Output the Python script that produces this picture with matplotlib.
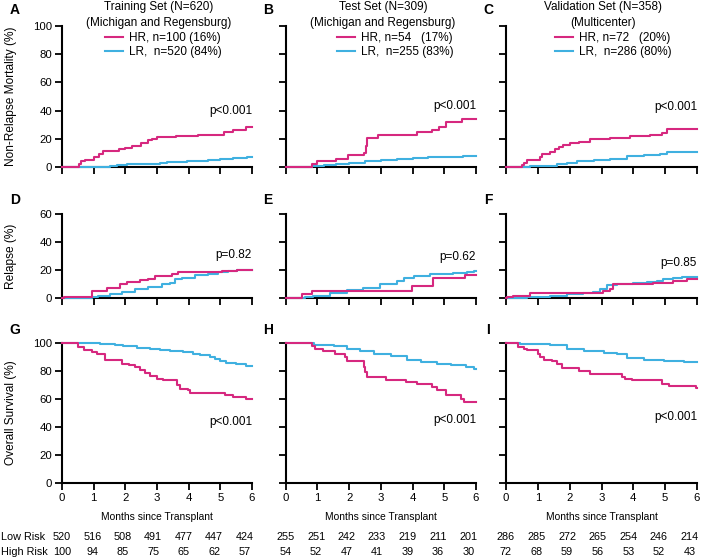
import matplotlib
matplotlib.use("Agg")
import matplotlib.pyplot as plt

HR_COLOR = "#d6287f"
LR_COLOR = "#3fb0e0"
SANS = ["Liberation Sans", "DejaVu Sans"]

# ---- data: step curves (months, %) ----
# non-relapse mortality
a_hr_t = [0, 0.53, 0.6, 0.74, 1.0, 1.16, 1.3, 1.8, 2.0, 2.2, 2.5, 2.7, 2.85, 3.0, 3.6, 4.3, 5.1, 5.4, 5.8]
a_hr_v = [0, 2, 4, 5.2, 7, 9, 11.3, 12.5, 13.6, 14.8, 17, 18.8, 20, 21, 22, 22.8, 24.7, 25.9, 28.4]
a_lr_t = [0, 1.5, 1.75, 2.05, 2.37, 3.1, 3.3, 3.95, 4.6, 5.0, 5.4, 5.85]
a_lr_v = [0, 0.5, 1.2, 1.9, 2.4, 2.8, 3.5, 4.0, 4.7, 5.4, 6.1, 6.9]

b_hr_t = [0, 0.84, 1.0, 1.6, 1.95, 2.47, 2.52, 2.57, 2.9, 4.15, 4.6, 4.83, 5.04, 5.56]
b_hr_v = [0, 2.4, 4, 6, 8.4, 9.6, 15, 20.5, 22.9, 24.5, 26.5, 28.4, 31.8, 34]
b_lr_t = [0, 0.84, 1.2, 1.6, 2.0, 2.5, 3.0, 3.5, 4.0, 4.5, 5.0, 5.6]
b_lr_v = [0, 0.7, 1.5, 2.3, 3.0, 4.0, 4.7, 5.5, 6.2, 6.8, 7.2, 7.7]

c_hr_t = [0, 0.49, 0.55, 0.65, 1.07, 1.12, 1.39, 1.54, 1.65, 1.8, 2.01, 2.28, 2.64, 3.27, 3.9, 4.53, 4.9, 5.06]
c_hr_v = [0, 1.5, 3, 4.8, 7, 9, 10.8, 13, 14.5, 15.7, 17, 18, 19.8, 20.5, 22, 23, 24, 27]
c_lr_t = [0, 0.76, 0.97, 1.6, 1.91, 2.22, 2.75, 3.27, 3.8, 4.32, 4.85, 5.06]
c_lr_v = [0, 0.5, 1, 2, 3, 4, 5, 6, 7.5, 8.5, 9, 10.4]

# relapse
d_hr_t = [0, 0.05, 0.94, 1.41, 1.83, 2.04, 2.46, 2.73, 2.94, 3.46, 3.67, 5.04, 5.52]
d_hr_v = [0, 1, 5, 7.4, 10.2, 11.4, 12.6, 13.8, 15.7, 17, 18.8, 19.5, 20.2]
d_lr_t = [0, 0.94, 1.15, 1.52, 1.88, 2.3, 2.73, 3.15, 3.41, 3.57, 3.78, 4.2, 4.62, 4.94, 5.25, 5.52]
d_lr_v = [0, 0.5, 1.4, 2.6, 4.3, 6.2, 8, 9.8, 11, 13.3, 14.5, 16.2, 17.4, 18.6, 19.5, 19.8]

e_hr_t = [0, 0.5, 0.82, 3.98, 4.66, 5.66]
e_hr_v = [0, 2.6, 5, 8.6, 14.5, 16.2]
e_lr_t = [0, 0.61, 0.87, 1.4, 1.93, 2.45, 2.98, 3.5, 3.72, 4.03, 4.56, 5.29, 5.72, 5.95]
e_lr_v = [0, 0.5, 1.4, 3.8, 5.7, 7.4, 9.8, 12.1, 14.5, 15.7, 17, 17.6, 18.6, 19.3]

f_hr_t = [0, 0.02, 0.23, 0.75, 3.06, 3.27, 3.37, 4.0, 4.63, 5.26, 5.68]
f_hr_v = [0, 0.5, 1.4, 3.3, 5, 6.7, 9.8, 10.2, 11, 12.1, 13.3]
f_lr_t = [0, 0.65, 0.86, 1.38, 1.91, 2.43, 2.74, 2.95, 3.16, 3.48, 4.0, 4.42, 4.73, 4.94, 5.26, 5.52]
f_lr_v = [0, 0.5, 1, 1.4, 2.6, 3.3, 4.3, 6.7, 9, 10.2, 11, 11.4, 12.1, 13.8, 14.5, 15.2]

# overall survival
g_hr_t = [0, 0.52, 0.68, 0.94, 1.1, 1.36, 1.89, 2.1, 2.31, 2.47, 2.62, 2.78, 2.99, 3.2, 3.62, 3.73, 3.99, 4.04, 5.14, 5.4, 5.82]
g_hr_v = [100, 97, 94.8, 93.6, 92.4, 88.1, 85.2, 84, 82.9, 80.5, 78.6, 76.2, 74.5, 73.3, 69.8, 67.4, 66.7, 64.3, 62.6, 61.4, 60]
g_lr_t = [0, 1.21, 1.68, 1.94, 2.36, 2.78, 3.1, 3.41, 3.83, 4.14, 4.35, 4.67, 4.83, 4.98, 5.19, 5.51, 5.82]
g_lr_v = [100, 99.5, 98.8, 97.9, 96.7, 96, 95.2, 94.3, 93.6, 92.4, 91.2, 90, 88.8, 87.1, 85.7, 84.8, 83.6]

h_hr_t = [0, 0.82, 0.93, 1.19, 1.56, 1.88, 1.93, 2.46, 2.51, 2.57, 3.15, 3.78, 4.15, 4.62, 4.78, 5.05, 5.52, 5.63]
h_hr_v = [100, 97.6, 96, 94.3, 91.9, 90, 87, 82.9, 79.3, 75.7, 73.8, 72, 70.5, 68.6, 66.7, 62.6, 60, 57.9]
h_lr_t = [0, 0.88, 1.51, 1.93, 2.35, 2.78, 3.31, 3.83, 4.26, 4.78, 5.21, 5.68, 5.95]
h_lr_v = [100, 98.8, 97.6, 96, 94.3, 92.4, 90.5, 88.1, 86.4, 85.2, 84, 82.9, 81.7]

i_hr_t = [0, 0.39, 0.55, 0.65, 1.02, 1.07, 1.18, 1.43, 1.6, 1.76, 2.28, 2.65, 3.65, 3.75, 3.97, 4.9, 5.12, 5.97]
i_hr_v = [100, 97, 95.5, 94.8, 92, 90, 87.6, 87, 85, 82, 80, 78, 76, 74.5, 73.3, 71, 69, 68]
i_lr_t = [0, 0.45, 0.97, 1.39, 1.92, 2.45, 3.08, 3.5, 3.8, 4.34, 4.97, 5.58]
i_lr_v = [100, 99.5, 99, 98.3, 96, 94.3, 92.9, 91.9, 89.5, 88, 87, 86.2]

# ---- text ----
titles = ["Training Set (N=620)", "Test Set (N=309)", "Validation Set (N=358)"]
subtitles = ["(Michigan and Regensburg)", "(Michigan and Regensburg)", "(Multicenter)"]
hr_labels = ["HR, n=100 (16%)", "HR, n=54   (17%)", "HR, n=72   (20%)"]
lr_labels = ["LR,  n=520 (84%)", "LR,  n=255 (83%)", "LR,  n=286 (80%)"]
row_ylabels = ["Non-Relapse Mortality (%)", "Relapse (%)", "Overall Survival (%)"]
row_ymax = [100, 60, 100]
row_yticks = [[0, 20, 40, 60, 80, 100], [0, 20, 40, 60], [0, 20, 40, 60, 80, 100]]
panel_letters = [["A", "B", "C"], ["D", "E", "F"], ["G", "H", "I"]]
pvals = [["p<0.001", "p<0.001", "p<0.001"],
         ["p=0.82", "p=0.62", "p=0.85"],
         ["p<0.001", "p<0.001", "p<0.001"]]
pval_y = [[40, 43, 42.5], [31, 29.6, 24.8], [43.6, 45, 47]]
months = [0, 1, 2, 3, 4, 5, 6]
low_risk = [[520, 516, 508, 491, 477, 447, 424],
            [255, 251, 242, 233, 219, 211, 201],
            [286, 285, 272, 265, 254, 246, 214]]
high_risk = [[100, 94, 85, 75, 65, 62, 57],
             [54, 52, 47, 41, 39, 36, 30],
             [72, 68, 59, 56, 53, 52, 43]]

curves = [
    [(a_hr_t, a_hr_v, a_lr_t, a_lr_v), (b_hr_t, b_hr_v, b_lr_t, b_lr_v), (c_hr_t, c_hr_v, c_lr_t, c_lr_v)],
    [(d_hr_t, d_hr_v, d_lr_t, d_lr_v), (e_hr_t, e_hr_v, e_lr_t, e_lr_v), (f_hr_t, f_hr_v, f_lr_t, f_lr_v)],
    [(g_hr_t, g_hr_v, g_lr_t, g_lr_v), (h_hr_t, h_hr_v, h_lr_t, h_lr_v), (i_hr_t, i_hr_v, i_lr_t, i_lr_v)],
]

# ---- layout (pixels of a 703x560 canvas) ----
W, H = 703, 560
col_x = [(62, 252), (285.7, 476), (506, 697)]
row_y = [(26, 167), (214, 298), (343, 483)]
letter_x = [15, 268, 488]
letter_y = [10, 200, 330]
legend_x = [105, 337, 555]

fig = plt.figure(figsize=(W / 100, H / 100), dpi=100)


def step_to_end(ax, t, v, color):
    t = list(t) + [6]
    v = list(v) + [v[-1]]
    (ln,) = ax.step(t, v, where="post", color=color, lw=1.5, clip_on=False, zorder=3)
    return ln


for r in range(3):
    for c in range(3):
        x0, x1 = col_x[c]
        y0, y1 = row_y[r]
        aw, ah = x1 - x0, y1 - y0
        ax = fig.add_axes([x0 / W, 1 - y1 / H, aw / W, ah / H])
        hr_t, hr_v, lr_t, lr_v = curves[r][c]
        lr_line = step_to_end(ax, lr_t, lr_v, LR_COLOR)
        hr_line = step_to_end(ax, hr_t, hr_v, HR_COLOR)

        ax.set_xlim(0, 6)
        ax.set_ylim(0, row_ymax[r])
        ax.set_xticks(months)
        ax.set_yticks(row_yticks[r])
        for s in ["top", "right"]:
            ax.spines[s].set_visible(False)
        for s in ["left", "bottom"]:
            ax.spines[s].set_linewidth(1.5)
        ax.tick_params(direction="out", length=5, width=1.3, labelsize=8.2, pad=2)
        for lab in ax.get_xticklabels() + ax.get_yticklabels():
            lab.set_family(SANS)
        if r < 2:
            ax.set_xticklabels([])
        if c > 0:
            ax.set_yticklabels([])
        else:
            ax.set_ylabel(row_ylabels[r], fontsize=8.6, family=SANS)
            ax.yaxis.set_label_coords((17 - x0) / aw, 0.5)

        # panel letter
        ax.text((letter_x[c] - x0) / aw, (y1 - letter_y[r]) / ah, panel_letters[r][c],
                transform=ax.transAxes, ha="center", va="center",
                fontsize=10, fontweight="bold", family=SANS)

        ax.text(6, pval_y[r][c], pvals[r][c], ha="right", va="center",
                fontsize=8.5, family=SANS)

        if r == 0:
            cx = ((x0 + x1) / 2 + 2 - x0) / aw
            ax.text(cx, (y1 - 7) / ah, titles[c], transform=ax.transAxes,
                    ha="center", va="center", fontsize=8.5, family=SANS)
            ax.text(cx, (y1 - 23) / ah, subtitles[c], transform=ax.transAxes,
                    ha="center", va="center", fontsize=8.5, family=SANS)
            ax.legend([hr_line, lr_line], [hr_labels[c], lr_labels[c]],
                      loc="upper left", bbox_to_anchor=((legend_x[c] - x0) / aw, (y1 - 32) / ah),
                      frameon=False, borderpad=0, borderaxespad=0, handlelength=1.5,
                      handletextpad=0.5, labelspacing=0.15,
                      prop={"family": SANS, "size": 8.5})

        if r == 2:
            ax.text(0.5, (y1 - 517) / ah, "Months since Transplant", transform=ax.transAxes,
                    ha="center", va="center", fontsize=7.4, family=SANS)
            for k, m in enumerate(months):
                xm = m * 0.96
                ax.text(xm, row_ymax[r] * (y1 - 537) / ah, str(low_risk[c][k]),
                        ha="center", va="center", fontsize=7.8, family=SANS, clip_on=False)
                ax.text(xm, row_ymax[r] * (y1 - 552) / ah, str(high_risk[c][k]),
                        ha="center", va="center", fontsize=7.8, family=SANS, clip_on=False)

fig.text(1 / W, 1 - 537 / H, "Low Risk", ha="left", va="center", fontsize=7.8, family=SANS)
fig.text(1 / W, 1 - 552 / H, "High Risk", ha="left", va="center", fontsize=7.8, family=SANS)

fig.savefig("out.png", dpi=100, facecolor="white")
